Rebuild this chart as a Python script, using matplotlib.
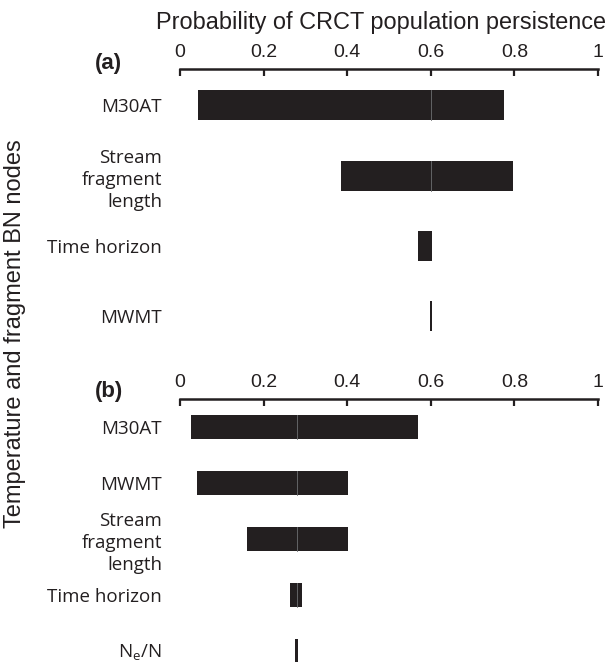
import numpy as np
import matplotlib
matplotlib.use('Agg')
import matplotlib.pyplot as plt

# panel (a)
nodes_a = ['M30AT', 'Stream\nfragment\nlength', 'Time horizon', 'MWMT']
low_a = [0.044, 0.384, 0.570, 0.597]
high_a = [0.776, 0.797, 0.604, 0.603]
base_a = 0.600

# panel (b)
nodes_b = ['M30AT', 'MWMT', 'Stream\nfragment\nlength', 'Time horizon', 'N$_\\mathregular{e}$/N']
low_b = [0.026, 0.040, 0.161, 0.264, 0.276]
high_b = [0.570, 0.401, 0.401, 0.291, 0.282]
base_b = 0.279

xticks = [0, 0.2, 0.4, 0.6, 0.8, 1]
xticklabels = ['0', '0.2', '0.4', '0.6', '0.8', '1']

dark = '#231f20'
W, H = 612, 662
fig = plt.figure(figsize=(W / 100, H / 100), dpi=100)


def tornado(ax, nodes, low, high, base, height, ylim):
    y = np.arange(len(nodes))
    low = np.array(low)
    high = np.array(high)
    ax.barh(y, high - low, left=low, height=height, color=dark, linewidth=0)
    # thin grey split line at the base value
    for yi, lo, hi in zip(y, low, high):
        if lo < base - 0.01 and hi > base + 0.01:
            ax.plot([base, base], [yi - height / 2, yi + height / 2],
                    color='#6d6e71', lw=0.6)
    ax.set_xlim(0, 1)
    ax.set_ylim(*ylim)
    ax.set_yticks(y)
    ax.set_yticklabels(nodes, fontsize=13.5, family='Open Sans', color=dark,
                       linespacing=1.3)
    ax.tick_params(axis='y', length=0, pad=13)
    ax.xaxis.tick_top()
    ax.set_xticks(xticks)
    ax.set_xticklabels(xticklabels, fontsize=14, family='Liberation Sans', color=dark)
    ax.tick_params(axis='x', direction='in', length=5, width=1.6, pad=6, color=dark)
    for s in ['bottom', 'left', 'right']:
        ax.spines[s].set_visible(False)
    ax.spines['top'].set_linewidth(1.8)
    ax.spines['top'].set_color(dark)
    ax.patch.set_alpha(0)


ax_a = fig.add_axes([180 / W, 1 - 348 / H, 418 / W, 279 / H])
tornado(ax_a, nodes_a, low_a, high_a, base_a, 0.427, (3.45, -0.519))

ax_b = fig.add_axes([180 / W, 0, 418 / W, 263 / H])
tornado(ax_b, nodes_b, low_b, high_b, base_b, 0.43, (4.205, -0.5))

fig.text(381 / W, 1 - 22 / H, 'Probability of CRCT population persistence',
         ha='center', va='center', fontsize=16.9, family='Liberation Sans', color=dark)
fig.text(15 / W, 1 - 334 / H, 'Temperature and fragment BN nodes', rotation=90,
         ha='center', va='center', fontsize=17, family='Liberation Sans', color=dark)
fig.text(108 / W, 1 - 63 / H, '(a)', ha='center', va='center', fontsize=16,
         fontweight='bold', family='Liberation Sans', color=dark)
fig.text(109 / W, 1 - 391 / H, '(b)', ha='center', va='center', fontsize=16,
         fontweight='bold', family='Liberation Sans', color=dark)

fig.savefig('out.png', dpi=100)
